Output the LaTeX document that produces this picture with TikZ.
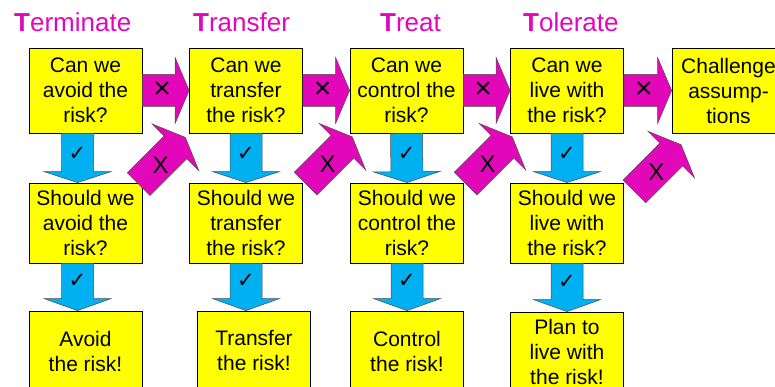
\documentclass[tikz,border=0pt]{standalone}
\usepackage{fontspec}
\setmainfont{Liberation Sans}
\newfontfamily\symfont{DejaVu Sans}
\usetikzlibrary{calc}
\definecolor{pinkish}{RGB}{226,8,186}
\definecolor{skyblue}{RGB}{0,176,240}
\definecolor{boxyellow}{RGB}{255,255,0}
\newcommand{\bigarrow}[5]{%
  \filldraw[#1] ($(#2)!16pt!90:(#3)$) -- ($($(#3)!#4pt!(#2)$)!16pt!90:(#3)$)
    -- ($($(#3)!#4pt!(#2)$)!#5pt!90:(#3)$) -- (#3)
    -- ($($(#3)!#4pt!(#2)$)!#5pt!-90:(#3)$) -- ($($(#3)!#4pt!(#2)$)!16pt!-90:(#3)$)
    -- ($(#2)!16pt!-90:(#3)$) -- cycle;}
\begin{document}
\begin{tikzpicture}[x=1pt, y=-1pt,
  box/.style={draw=black, line width=0.8pt, fill=boxyellow, minimum width=113, inner sep=0pt,
    align=center, font=\fontsize{21}{25}\selectfont},
  head/.style={text=pinkish, inner sep=0pt, anchor=base west, font=\fontsize{26}{30}\selectfont},
  noarrow/.style={fill=pinkish, draw=black!70, line width=0.5pt},
  yesarrow/.style={fill=skyblue, draw=black!70, line width=0.5pt},
  cross/.style={inner sep=0pt, font=\fontsize{30}{30}\selectfont},
  tick/.style={inner sep=0pt, font=\symfont\fontsize{21}{21}\selectfont}]
\clip (0,0) rectangle (775,387);
\node[head] (h1) at (14,32) {\textbf{T}erminate};
\node[head] (h2) at (193,32) {\textbf{T}ransfer};
\node[head] (h3) at (380,32) {\textbf{T}reat};
\node[head] (h4) at (523,32) {\textbf{T}olerate};

\node[box, minimum height=85] (q1) at (85.5,90.5) {Can we\\avoid the\\risk?};
\node[box, minimum height=85] (q2) at (246,90.5) {Can we\\transfer\\the risk?};
\node[box, minimum height=85] (q3) at (406.5,90.5) {Can we\\control the\\risk?};
\node[box, minimum height=85] (q4) at (567,90.5) {Can we\\live with\\the risk?};
\node[box, minimum height=85] (ch) at (728.5,90.5) {Challenge\\assump-\\tions};

\node[box, minimum height=80, text depth=-8pt] (s1) at (85.5,223) {Should we\\avoid the\\risk?};
\node[box, minimum height=80, text depth=-8pt] (s2) at (246,223) {Should we\\transfer\\the risk?};
\node[box, minimum height=80, text depth=-8pt] (s3) at (407,223) {Should we\\control the\\risk?};
\node[box, minimum height=80, text depth=-8pt] (s4) at (567,223) {Should we\\live with\\the risk?};

\node[box, minimum height=80] (r1) at (85.5,351) {Avoid\\the risk!};
\node[box, minimum height=80] (r2) at (254,351) {Transfer\\the risk!};
\node[box, minimum height=80] (r3) at (407,351) {Control\\the risk!};
\node[box, minimum height=80] (r4) at (567,352) {Plan to\\live with\\the risk!};

\foreach \i/\dx in {1/-8,2/0,3/0,4/0}{
  \coordinate (u\i) at ($(q\i.south)+(\dx,0)$);
  \coordinate (v\i) at ($(s\i.north)+(\dx,0)$);
  \coordinate (w\i) at ($(s\i.south)+(\dx,0)$);
  \coordinate (z\i) at (w\i |- r\i.north);
  \bigarrow{yesarrow}{u\i}{v\i}{11}{33.5}
  \bigarrow{yesarrow}{w\i}{z\i}{12}{33.5}
  \node[tick] (ta\i) at ($(u\i)!0.42!(v\i)$) {✓};
  \node[tick] (tb\i) at ($(w\i)!0.38!(z\i)$) {✓};
}

\foreach \i/\j in {q1/q2,q2/q3,q3/q4,q4/ch}{
  \bigarrow{noarrow}{\i.east}{\j.west}{14}{33}
  \node[cross] (x\i) at ($(\i.east)!0.42!(\j.west)$) {×};
}

\coordinate (d1) at ($(s1.north east)+(-3.7,1.5)$);
\coordinate (d2) at ($(s2.north east)+(2.7,1)$);
\coordinate (d3) at ($(s3.north east)+(1.7,1)$);
\coordinate (d4) at ($(s4.north east)+(10.5,8.8)$);
\foreach \i in {1,2,3,4}{
  \coordinate (e\i) at ($(d\i)+(46.7,-46.7)$);
  \bigarrow{noarrow}{d\i}{e\i}{14}{33}
  \node[cross, font=\fontsize{24}{24}\selectfont] (y\i) at ($(d\i)!0.45!(e\i)+(1,2)$) {X};
}
\end{tikzpicture}
\end{document}
